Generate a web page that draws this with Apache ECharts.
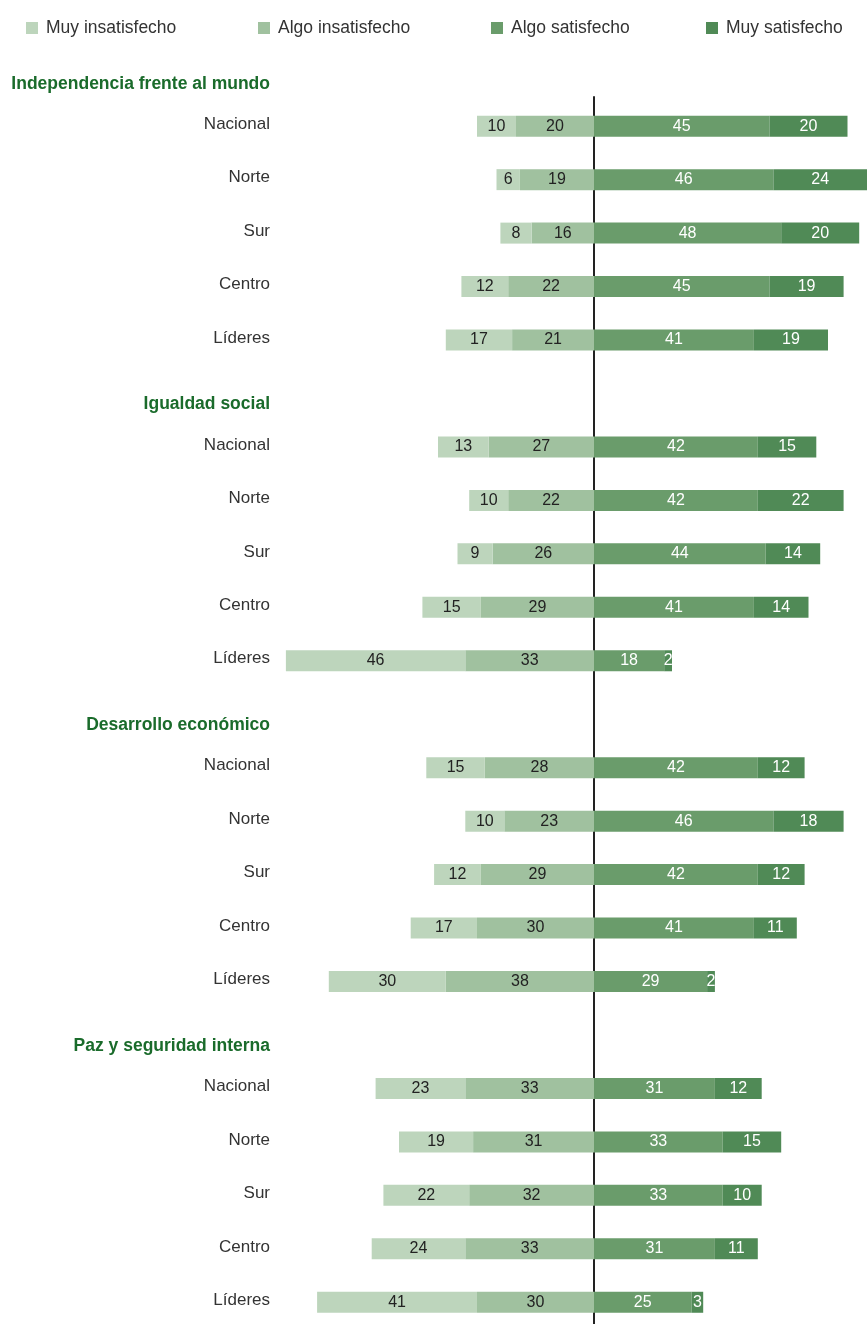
<!DOCTYPE html>
<html>
<head>
<meta charset="utf-8">
<script src="https://cdn.jsdelivr.net/npm/echarts@6/dist/echarts.min.js"></script>
<style>
  html, body { margin: 0; padding: 0; background: #fff; }
  #chart { width: 867px; height: 1324px; }
</style>
</head>
<body>
<div id="chart"></div>
<script>
// Data
const groups = ["Independencia frente al mundo", "Igualdad social", "Desarrollo económico", "Paz y seguridad interna"];
const rows = ["Nacional", "Norte", "Sur", "Centro", "Líderes"];
const seriesNames = ["Muy insatisfecho", "Algo insatisfecho", "Algo satisfecho", "Muy satisfecho"];
const muyInsatisfecho = [10, 6, 8, 12, 17, 13, 10, 9, 15, 46, 15, 10, 12, 17, 30, 23, 19, 22, 24, 41];
const algoInsatisfecho = [20, 19, 16, 22, 21, 27, 22, 26, 29, 33, 28, 23, 29, 30, 38, 33, 31, 32, 33, 30];
const algoSatisfecho = [45, 46, 48, 45, 41, 42, 42, 44, 41, 18, 42, 46, 42, 41, 29, 31, 33, 33, 31, 25];
const muySatisfecho = [20, 24, 20, 19, 19, 15, 22, 14, 14, 2, 12, 18, 12, 11, 2, 12, 15, 10, 11, 3];

const colors = ["#bdd5bc", "#a0c19f", "#6a9c6b", "#508a56"];
const font = "'Liberation Sans', Arial, sans-serif";

// build category list: a header slot before each group's rows
const categories = [];
const isHeader = [];
groups.forEach((g) => {
  categories.push(g);
  isHeader.push(true);
  rows.forEach((r) => {
    categories.push(r);
    isHeader.push(false);
  });
});

function expand(values, sign) {
  const out = [];
  let k = 0;
  isHeader.forEach((h) => {
    if (h) out.push(null);
    else out.push(sign * values[k++]);
  });
  return out;
}

const chart = echarts.init(document.getElementById("chart"));

function barSeries(name, values, sign, color, textColor) {
  return {
    name: name,
    type: "bar",
    stack: "total",
    barWidth: 21,
    xAxisIndex: 0,
    yAxisIndex: 0,
    itemStyle: { color: color },
    label: {
      show: true,
      position: "inside",
      color: textColor,
      fontSize: 16,
      fontFamily: font,
      formatter: (p) => (p.value == null ? "" : Math.abs(p.value)),
    },
    data: expand(values, sign),
  };
}

// one legend per item so each sits where it does in the reference
const legendLeft = [21, 253, 486, 701];
const legends = seriesNames.map((name, i) => ({
  data: [name],
  left: legendLeft[i],
  top: 14,
  icon: "rect",
  itemWidth: 12,
  itemHeight: 12,
  textStyle: { fontSize: 17.5, color: "#333", fontFamily: font, padding: [0, 0, 0, 3] },
}));

const option = {
  animation: false,
  legend: legends,
  grid: [
    { left: 282, width: 585, top: 46, height: 1283, outerBoundsMode: "none", containLabel: false },
    { left: 282, width: 585, top: 97, bottom: 0, outerBoundsMode: "none", containLabel: false },
  ],
  xAxis: [
    { type: "value", gridIndex: 0, min: -80, max: 70, show: false },
    { type: "value", gridIndex: 1, min: -80, max: 70, show: false },
  ],
  yAxis: [
    {
      type: "category",
      gridIndex: 0,
      inverse: true,
      data: categories,
      axisLine: { show: false },
      axisTick: { show: false },
      axisLabel: {
        interval: 0,
        margin: 12,
        fontSize: 17,
        color: "#333",
        fontFamily: font,
        padding: [0, 0, 4, 0],
        formatter: (value, index) => (isHeader[index] ? "{h|" + value + "}" : value),
        rich: {
          h: {
            fontSize: 17.5,
            fontWeight: "bold",
            color: "#1a6b2b",
            fontFamily: font,
            padding: [26, 0, 0, 0],
          },
        },
      },
    },
    {
      type: "value",
      gridIndex: 1,
      min: 0,
      max: 1,
      axisLine: { show: true, onZero: true, lineStyle: { color: "#222", width: 2 } },
      axisTick: { show: false },
      axisLabel: { show: false },
      splitLine: { show: false },
    },
  ],
  series: [
    barSeries(seriesNames[1], algoInsatisfecho, -1, colors[1], "#222"),
    barSeries(seriesNames[0], muyInsatisfecho, -1, colors[0], "#222"),
    barSeries(seriesNames[2], algoSatisfecho, 1, colors[2], "#fff"),
    barSeries(seriesNames[3], muySatisfecho, 1, colors[3], "#fff"),
  ],
};

chart.setOption(option);
</script>
</body>
</html>
